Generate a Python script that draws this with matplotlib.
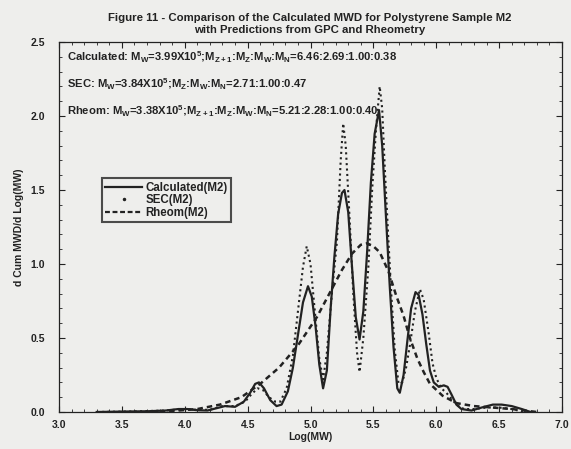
import numpy as np
import matplotlib
matplotlib.use('Agg')
import matplotlib.pyplot as plt
from matplotlib.lines import Line2D
from matplotlib.ticker import MultipleLocator, FormatStrFormatter

plt.rcParams['font.family'] = 'Liberation Sans'
plt.rcParams['font.weight'] = 'bold'
plt.rcParams['mathtext.fontset'] = 'custom'
plt.rcParams['mathtext.rm'] = 'Liberation Sans:bold'
plt.rcParams['mathtext.bf'] = 'Liberation Sans:bold'

# Calculated(M2)
calc_x = [3.30, 3.50, 3.70, 3.85, 3.95, 4.02, 4.10, 4.18, 4.25, 4.32, 4.40, 4.47, 4.52, 4.56,
          4.59, 4.63, 4.68, 4.73, 4.77, 4.82, 4.86, 4.90, 4.94, 4.98, 5.01, 5.04, 5.07, 5.10,
          5.13, 5.16, 5.19, 5.22, 5.25, 5.27, 5.30, 5.33, 5.36, 5.39, 5.42, 5.45, 5.48, 5.51,
          5.545, 5.57, 5.60, 5.63, 5.66, 5.69, 5.71, 5.74, 5.77, 5.80, 5.835, 5.86, 5.89, 5.92,
          5.95, 5.98, 6.02, 6.06, 6.09, 6.12, 6.16, 6.20, 6.28, 6.36, 6.45, 6.52, 6.60, 6.68, 6.75]
calc_y = [0.0, 0.003, 0.005, 0.01, 0.02, 0.02, 0.012, 0.01, 0.025, 0.04, 0.035, 0.07, 0.13, 0.19,
          0.20, 0.16, 0.08, 0.04, 0.05, 0.14, 0.30, 0.52, 0.74, 0.85, 0.78, 0.58, 0.32, 0.16,
          0.28, 0.70, 1.05, 1.34, 1.48, 1.50, 1.35, 0.98, 0.64, 0.49, 0.68, 1.08, 1.55, 1.88,
          2.04, 1.80, 1.32, 0.85, 0.44, 0.16, 0.13, 0.25, 0.48, 0.70, 0.81, 0.79, 0.66, 0.46,
          0.28, 0.20, 0.17, 0.18, 0.17, 0.12, 0.05, 0.02, 0.01, 0.03, 0.05, 0.05, 0.04, 0.02, 0.0]

# SEC(M2)
sec_x = [3.30, 3.60, 3.85, 3.98, 4.10, 4.20, 4.30, 4.40, 4.48, 4.53, 4.58, 4.62, 4.67, 4.72,
         4.76, 4.81, 4.86, 4.90, 4.94, 4.97, 5.00, 5.03, 5.07, 5.10, 5.13, 5.17, 5.21, 5.24,
         5.26, 5.28, 5.31, 5.34, 5.37, 5.39, 5.42, 5.46, 5.49, 5.52, 5.55, 5.57, 5.59, 5.62,
         5.645, 5.67, 5.70, 5.73, 5.76, 5.79, 5.83, 5.87, 5.90, 5.94, 5.97, 6.00, 6.04, 6.08,
         6.12, 6.16, 6.22, 6.30, 6.40, 6.50, 6.60, 6.70]
sec_y = [0.0, 0.004, 0.01, 0.02, 0.015, 0.015, 0.04, 0.04, 0.07, 0.12, 0.16, 0.15, 0.10, 0.07,
         0.07, 0.16, 0.38, 0.68, 0.98, 1.12, 1.00, 0.72, 0.36, 0.22, 0.40, 0.80, 1.15, 1.70,
         1.95, 1.80, 1.32, 0.80, 0.40, 0.27, 0.50, 0.98, 1.50, 1.90, 2.20, 2.05, 1.66, 1.15,
         0.76, 0.42, 0.19, 0.20, 0.30, 0.45, 0.68, 0.83, 0.76, 0.53, 0.33, 0.23, 0.16, 0.13,
         0.09, 0.05, 0.02, 0.02, 0.03, 0.03, 0.02, 0.0]

# Rheom(M2)
rheo_x = [3.80, 3.95, 4.10, 4.28, 4.45, 4.60, 4.75, 4.90, 5.05, 5.15, 5.25, 5.33, 5.40, 5.45,
          5.50, 5.55, 5.62, 5.68, 5.74, 5.79, 5.85, 5.90, 5.95, 6.05, 6.16, 6.30, 6.45, 6.60, 6.80]
rheo_y = [0.0, 0.01, 0.02, 0.05, 0.10, 0.19, 0.30, 0.45, 0.64, 0.80, 0.96, 1.07, 1.13, 1.14,
          1.12, 1.08, 0.95, 0.79, 0.65, 0.50, 0.36, 0.27, 0.19, 0.11, 0.06, 0.04, 0.03, 0.02, 0.0]

notes = [
    r"Calculated: M$_\mathrm{W}$=3.99X10$^\mathrm{5}$;M$_\mathrm{Z+1}$:M$_\mathrm{Z}$:M$_\mathrm{W}$:M$_\mathrm{N}$=6.46:2.69:1.00:0.38",
    r"SEC: M$_\mathrm{W}$=3.84X10$^\mathrm{5}$;M$_\mathrm{Z}$:M$_\mathrm{W}$:M$_\mathrm{N}$=2.71:1.00:0.47",
    r"Rheom: M$_\mathrm{W}$=3.38X10$^\mathrm{5}$;M$_\mathrm{Z+1}$:M$_\mathrm{Z}$:M$_\mathrm{W}$:M$_\mathrm{N}$=5.21:2.28:1.00:0.40",
]

ink = '#222222'
paper = '#eeeeec'

fig = plt.figure(figsize=(5.71, 4.49), dpi=100, facecolor=paper)
ax = fig.add_axes([0.1033, 0.0824, 0.881, 0.824], facecolor=paper)

ax.plot(calc_x, calc_y, color=ink, lw=1.6)
ax.plot(sec_x, sec_y, color=ink, lw=1.5, ls=(0, (1, 1.6)))
ax.plot(rheo_x, rheo_y, color=ink, lw=1.8, ls=(0, (2.2, 1.6)))

ax.set_xlim(3.0, 7.0)
ax.set_ylim(0.0, 2.5)
ax.xaxis.set_major_locator(MultipleLocator(0.5))
ax.xaxis.set_minor_locator(MultipleLocator(0.1))
ax.yaxis.set_major_locator(MultipleLocator(0.5))
ax.yaxis.set_minor_locator(MultipleLocator(0.1))
ax.xaxis.set_major_formatter(FormatStrFormatter('%.1f'))
ax.yaxis.set_major_formatter(FormatStrFormatter('%.1f'))
ax.tick_params(which='both', direction='in', top=True, right=True, color=ink,
               labelsize=7.5, labelcolor=ink)
ax.tick_params(which='major', length=4, width=0.8)
ax.tick_params(which='minor', length=2, width=0.6)
ax.tick_params(axis='x', pad=6)
ax.tick_params(axis='y', pad=10)
for s in ax.spines.values():
    s.set_color(ink)
    s.set_linewidth(0.9)

ax.set_xlabel("Log(MW)", fontsize=7.5, fontweight='bold', color=ink, labelpad=1)
ax.set_ylabel("d Cum MWD/d Log(MW)", fontsize=7.5, fontweight='bold', color=ink, labelpad=5)
fig.text(0.543, 0.97, "Figure 11 - Comparison of the Calculated MWD for Polystyrene Sample M2\n"
         "with Predictions from GPC and Rheometry", ha='center', va='top',
         fontsize=8.2, fontweight='bold', color=ink, linespacing=1.2)

for i, t in enumerate(notes):
    ax.text(0.016, 0.96 - 0.073 * i, t, transform=ax.transAxes, fontsize=8.1,
            color=ink, va='center', ha='left')

handles = [
    Line2D([], [], color=ink, lw=1.6),
    Line2D([], [], color=ink, ls='none', marker='.', markersize=3),
    Line2D([], [], color=ink, lw=1.6, ls=(0, (2.2, 1.2))),
]
leg = ax.legend(handles, ["Calculated(M2)", "SEC(M2)", "Rheom(M2)"],
                loc='upper left', bbox_to_anchor=(0.085, 0.632), fontsize=8.3,
                frameon=True, fancybox=False, handlelength=3.2, handletextpad=0.3,
                labelspacing=0.05, borderpad=0.3, borderaxespad=0)
leg.get_frame().set_edgecolor(ink)
leg.get_frame().set_linewidth(1.5)
leg.get_frame().set_facecolor(paper)
for txt in leg.get_texts():
    txt.set_color(ink)

fig.savefig("out.png", dpi=100, facecolor=paper)
